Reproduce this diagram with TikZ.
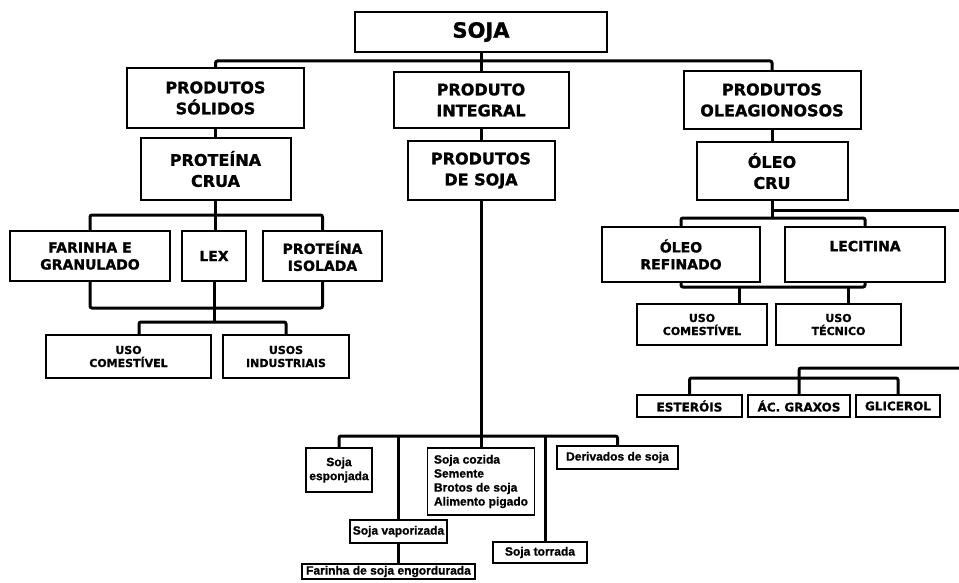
\documentclass[tikz,border=0pt]{standalone}
\usepackage{fontspec}
\setmainfont{DejaVu Sans}[BoldFeatures={FakeBold=1.2}]
\newfontfamily\labfont{Liberation Sans}[BoldFeatures={FakeBold=1.0}]
\begin{document}
\begin{tikzpicture}[x=1pt,y=-1pt,
 bx/.style={draw, line width=2pt, inner sep=0pt, align=center},
 big/.style={bx, font=\bfseries\fontsize{16}{21}\selectfont},
 mid/.style={bx, font=\bfseries\fontsize{14}{17}\selectfont},
 sml/.style={bx, font=\bfseries\fontsize{11}{13}\selectfont},
 tny/.style={bx, font=\bfseries\fontsize{12}{14}\selectfont},
 low/.style={bx, line width=1.8pt, font=\labfont\bfseries\fontsize{12}{14}\selectfont},
 ln/.style={line width=3pt, rounded corners=2pt}]
\path[fill=white,use as bounding box] (0,0) rectangle (959,583);
% level 1
\node[bx, font=\bfseries\fontsize{21}{24}\selectfont, minimum width=252pt, minimum height=40pt] (soja) at (481,32) {SOJA};
% level 2
\node[big, minimum width=177pt, minimum height=60pt] (ps) at (215.5,98) {PRODUTOS\\SÓLIDOS};
\node[big, minimum width=175pt, minimum height=56pt] (pi) at (481,100) {PRODUTO\\INTEGRAL};
\node[big, minimum width=177pt, minimum height=58pt] (po) at (772,100) {PRODUTOS\\OLEAGIONOSOS};
% level 3
\node[big, minimum width=150pt, minimum height=62pt] (pc) at (215.5,169) {PROTEÍNA\\CRUA};
\node[big, minimum width=147pt, minimum height=59pt] (pds) at (481,170.5) {PRODUTOS\\DE SOJA};
\node[big, minimum width=151pt, minimum height=58pt] (oc) at (772,171) {ÓLEO\\CRU};
% left branch
\node[mid, minimum width=160pt, minimum height=50pt] (fg) at (90,256) {FARINHA E\\GRANULADO};
\node[mid, minimum width=64pt, minimum height=50pt] (lex) at (214,256) {LEX};
\node[mid, minimum width=119pt, minimum height=50pt] (pis) at (322.5,256) {PROTEÍNA\\ISOLADA};
\node[sml, minimum width=165pt, minimum height=43pt] (uc1) at (128.5,356.5) {USO\\COMESTÍVEL};
\node[sml, minimum width=126pt, minimum height=43pt] (ui) at (286,356.5) {USOS\\INDUSTRIAIS};
% right branch
\node[mid, minimum width=158pt, minimum height=55pt] (or) at (681,254.5) {ÓLEO\\REFINADO};
\node[mid, minimum width=160pt, minimum height=55pt] (lec) at (865,254.5) {LECITINA\\\phantom{X}};
\node[sml, minimum width=130pt, minimum height=41pt] (uc2) at (702,324.5) {USO\\COMESTÍVEL};
\node[sml, minimum width=125pt, minimum height=41pt] (ut) at (838.5,324.5) {USO\\TÉCNICO};
\node[tny, minimum width=105pt, minimum height=22pt] (est) at (689.5,406) {ESTERÓIS};
\node[tny, minimum width=102pt, minimum height=22pt] (acg) at (799,406) {ÁC. GRAXOS};
\node[tny, minimum width=84pt, minimum height=22pt] (gli) at (898,406) {GLICEROL};
% middle branch
\node[low, minimum width=66pt, minimum height=44pt] (esp) at (339,470) {Soja\\esponjada};
\node[low, align=left, minimum width=107pt, minimum height=67pt] (coz) at (481,481.5) {Soja cozida\\Semente\\Brotos de soja\\Alimento pigado};
\node[low, minimum width=121pt, minimum height=23pt] (der) at (617.5,457.5) {Derivados de soja};
\node[low, minimum width=97pt, minimum height=23pt] (vap) at (398.5,531.5) {Soja vaporizada};
\node[low, minimum width=94pt, minimum height=21pt] (tor) at (540,552.5) {Soja torrada};
\node[low, minimum width=173pt, minimum height=15pt] (far) at (388.5,571.5) {Farinha de soja engordurada};
% connectors top
\coordinate (b1) at (481,61);
\draw[ln] (soja.south) -- (pi.north);
\draw[ln] (ps.north) |- (b1) -| (po.north);
\draw[ln] (ps.south) -- (ps.south |- pc.north);
\draw[ln] (pi.south) -- (pds.north);
\draw[ln] (po.south) -- (oc.north);
% left
\coordinate (b2) at (214,215);
\coordinate (b3) at (214,308);
\coordinate (b4) at (214,322);
\draw[ln] (pc.south) -- (pc.south |- lex.north);
\draw[ln] (fg.north) |- (b2) -| (pis.north);
\draw[ln] (fg.south) |- (b3) -| (pis.south);
\draw[ln] (lex.south) -- (b4);
\draw[ln] ([xshift=10.5pt]uc1.north) |- (b4) -| (ui.north);
% right
\coordinate (b5) at (772,218);
\coordinate (e1) at (959,210);
\coordinate (b6) at (774,287);
\coordinate (e2) at (959,368);
\coordinate (b7) at (799,378);
\draw[ln] (oc.south) -- (b5);
\draw[ln] (or.north) |- (b5) -| (lec.north);
\draw[ln] (oc.south |- e1) -- (e1);
\draw[ln] (or.south) |- (b6) -| (lec.south);
\draw[ln] ([xshift=37pt]uc2.north) -- ([xshift=37pt]uc2.north |- b6);
\draw[ln] ([xshift=9.5pt]ut.north) -- ([xshift=9.5pt]ut.north |- b6);
\draw[ln] (e2) -| (acg.north);
\draw[ln] (est.north) |- (b7) -| (gli.north);
% middle
\coordinate (b8) at (481,436);
\draw[ln] (pds.south) -- (coz.north);
\draw[ln] (esp.north) |- (b8) -| (der.north);
\draw[ln] (vap.north) -- (vap.north |- b8);
\draw[ln] (vap.south) -- (vap.south |- far.north);
\draw[ln] ([xshift=5pt]tor.north) -- ([xshift=5pt]tor.north |- b8);
\end{tikzpicture}
\end{document}
